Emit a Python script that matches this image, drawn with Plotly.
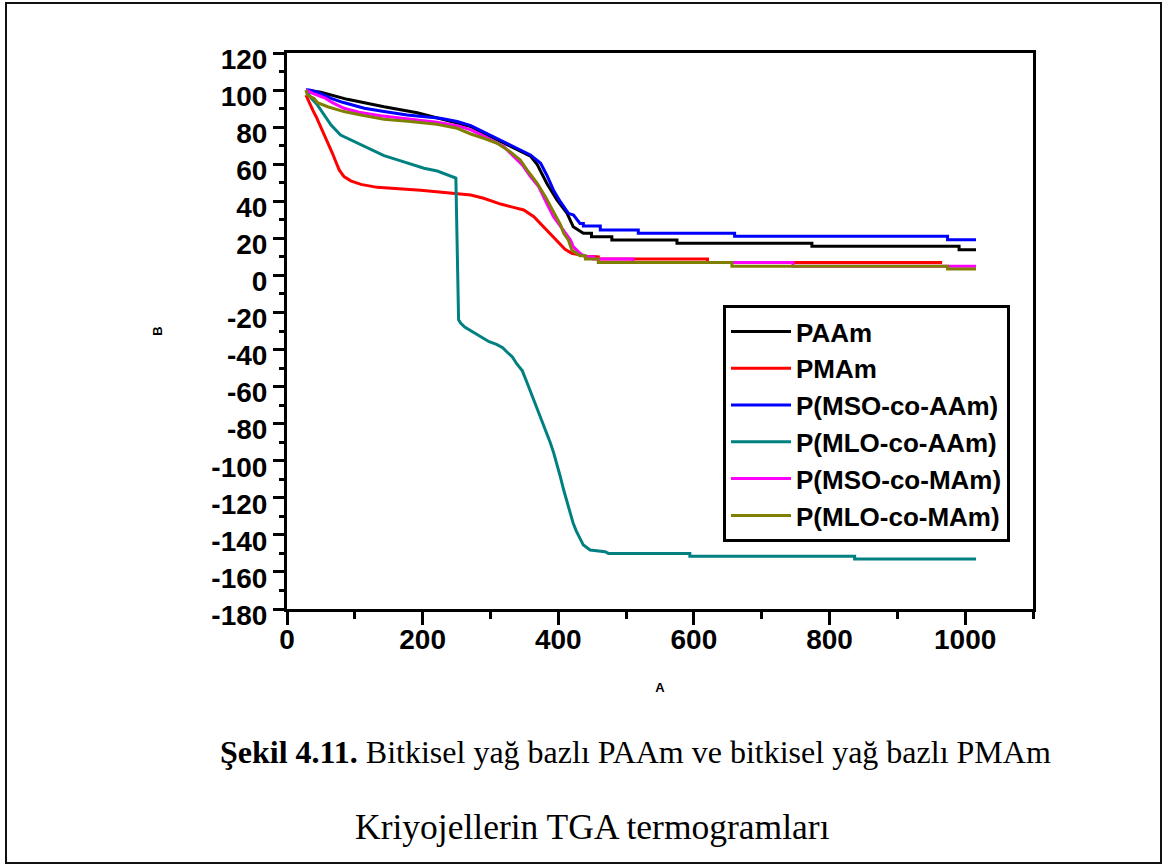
import plotly.graph_objects as go

# ---------------- data ----------------
paam_T = [28, 50, 89, 143, 192, 244, 271, 290, 315, 339, 359, 369, 383, 398, 413, 422,
          437, 449, 449, 479, 479, 575, 575, 774, 774, 991, 991, 1016]
paam_W = [100, 98.8, 95, 91, 87.8, 83, 80.3, 76.8, 72.4, 68.2, 64.4, 59.8, 49.7, 40.7, 33.5, 26.3,
          22.7, 22.7, 20.9, 20.9, 19.1, 19.1, 17.3, 17.3, 15.7, 15.7, 13.9, 13.9]

pmam_T = [28, 33, 38, 43, 47.5, 52.5, 60, 67, 72, 77, 84, 94, 109, 133, 197, 244, 271, 290,
          315, 334, 349, 364, 376, 388, 400, 410, 420, 440, 452, 459, 459, 620, 620, 966]
pmam_W = [97.3, 92.8, 89.2, 85.6, 82, 77.5, 72.1, 65.9, 61.3, 56.9, 53.3, 51, 49.1, 47.5, 46,
          44.3, 43.4, 41.6, 38.5, 36.7, 35.3, 31.7, 27.2, 22.7, 18.2, 14.1, 11.9, 10.4, 10.2,
          10, 8.8, 8.8, 6.9, 6.9]

msoaam_T = [28, 33, 45, 65, 82, 114, 143, 177, 226, 251, 271, 290, 315, 339, 359, 374, 383,
            393, 403, 415, 422.5, 432, 437, 437, 462, 462, 518, 518, 660, 660, 974, 974, 1016]
msoaam_W = [100, 100, 98.8, 95.5, 93.4, 90.2, 88.4, 86.5, 84.8, 83, 80.8, 77.5, 73, 68.6, 65,
            60.5, 54.2, 46, 39.8, 33.5, 32.6, 28, 28, 26.6, 26.6, 24.5, 24.5, 22.7, 22.7, 21.1,
            21.1, 19.3, 19.3]

mloaam_T = [28, 35, 45, 55, 65, 79, 99, 123.5, 143, 163, 182, 202, 221.6, 236, 246, 249, 253,
            256, 262, 271, 279, 290, 298, 309, 318, 324, 332, 339, 347, 353, 360, 366, 372, 378,
            383, 388, 393, 398, 403, 408, 413, 418, 422, 427, 432, 437, 447, 469, 474, 594, 594,
            837, 837, 1016]
mloaam_W = [100, 96, 91.9, 86.5, 81.1, 75.7, 72.1, 67.7, 64.6, 62.3, 59.9, 57.8, 56.3, 54.5,
            52.9, 52.5, -24, -25.7, -27.9, -29.9, -31.8, -34, -35.8, -37.2, -39, -41.2, -43.9,
            -47.8, -51.5, -57, -63.5, -69.5, -75.5, -80.5, -85, -90, -95.5, -101.4, -108.6,
            -115.8, -122.1, -128.4, -133.8, -138.3, -141.9, -145.5, -148.2, -149.1, -150, -150,
            -151.5, -151.5, -153, -153]

msomam_T = [28, 38, 57, 67, 84, 106, 138, 182, 221, 251, 271, 290, 320, 332, 347, 359, 371,
            383, 393, 418, 422, 432, 440, 452, 452, 510, 510, 746, 746, 1016]
msomam_W = [100, 98.2, 95.5, 93.2, 90.2, 88, 86.2, 84.2, 82.6, 80.8, 78.5, 75.2, 69.4, 65,
            59.6, 53.3, 47.9, 38.9, 31.7, 19.1, 15.5, 11.9, 10, 10, 8.8, 8.8, 6.9, 6.9, 5, 5]

mlomam_T = [28, 30, 40, 45, 60, 84, 109, 143, 182, 221, 251, 271, 290, 310, 329, 344, 354,
            369, 381, 393, 403, 408, 415, 420, 432, 440, 440, 459, 459, 656, 656, 974, 974, 1016]
mlomam_W = [100, 97.3, 95.5, 93.2, 91, 88.4, 86.5, 84.2, 83, 81.5, 79.4, 76.3, 74, 71.3, 66.7,
            62.3, 56.9, 49.7, 42.5, 34.5, 27.6, 22.7, 19, 13.7, 10.6, 10.6, 8.8, 8.8, 6.9, 6.9,
            5, 5, 3.4, 3.4]

series_names = ["PAAm", "PMAm", "P(MSO-co-AAm)", "P(MLO-co-AAm)", "P(MSO-co-MAm)", "P(MLO-co-MAm)"]
series_colors = ["#000000", "#FF0000", "#0000FF", "#008080", "#FF00FF", "#808000"]
series_T = [paam_T, pmam_T, msoaam_T, mloaam_T, msomam_T, mlomam_T]
series_W = [paam_W, pmam_W, msoaam_W, mloaam_W, msomam_W, mlomam_W]

x_ticks = [0, 200, 400, 600, 800, 1000]
y_ticks = list(range(-180, 121, 20))
caption_1 = "<b>Şekil 4.11.</b> Bitkisel yağ bazlı PAAm ve bitkisel yağ bazlı PMAm"
caption_2 = "Kriyojellerin TGA termogramları"

# ---------------- figure ----------------
W_PX, H_PX = 1164, 866
ML, MR, MT, MB = 287, 131, 53, 257
PW, PH = W_PX - ML - MR, H_PX - MT - MB


def px_to_paper_x(px):
    return (px - ML) / PW


def px_to_paper_y(py):
    return (H_PX - MB - py) / PH


fig = go.Figure()
for name, color, T, Wv in zip(series_names, series_colors, series_T, series_W):
    fig.add_trace(go.Scatter(x=T, y=Wv, mode="lines", name=name,
                             line=dict(color=color, width=3)))

tick_font = dict(family="Liberation Sans, Arial, sans-serif", size=28, color="black", weight="bold")

fig.update_layout(
    width=W_PX, height=H_PX,
    margin=dict(l=ML, r=MR, t=MT, b=MB, pad=0),
    paper_bgcolor="white", plot_bgcolor="white",
    showlegend=True,
    legend=dict(
        x=px_to_paper_x(723), y=px_to_paper_y(305), xanchor="left", yanchor="top",
        bgcolor="white", bordercolor="black", borderwidth=3,
        font=dict(family="Liberation Sans, Arial, sans-serif", size=26, color="black", weight="bold"),
        itemwidth=60, tracegroupgap=0,
    ),
    xaxis=dict(
        range=[0, 1100], tickmode="array", tickvals=x_ticks, ticktext=[str(v) for v in x_ticks],
        showgrid=False, zeroline=False, showline=True, linecolor="black", linewidth=3,
        mirror=True, ticks="outside", ticklen=13, tickwidth=3, tickcolor="black",
        minor=dict(dtick=100, ticks="outside", ticklen=7, tickwidth=3, tickcolor="black", showgrid=False),
        tickfont=tick_font, ticklabelstandoff=-10,
        title=dict(text="A", font=dict(family="Liberation Sans, Arial, sans-serif", size=13,
                                       color="black", weight="bold"), standoff=30),
    ),
    yaxis=dict(
        range=[-180, 120], tickmode="array", tickvals=y_ticks, ticktext=[str(v) for v in y_ticks],
        showgrid=False, zeroline=False, showline=True, linecolor="black", linewidth=3,
        mirror=True, ticks="outside", ticklen=11, tickwidth=3, tickcolor="black",
        minor=dict(dtick=10, ticks="outside", ticklen=5, tickwidth=3, tickcolor="black", showgrid=False),
        tickfont=tick_font, ticklabelshift=6,
        title=dict(text="B", font=dict(family="Liberation Sans, Arial, sans-serif", size=13,
                                       color="black", weight="bold"), standoff=46),
    ),
)

serif = "Liberation Serif, Times New Roman, serif"
fig.add_annotation(text=caption_1, xref="paper", yref="paper",
                   x=px_to_paper_x(635), y=px_to_paper_y(752), xanchor="center", yanchor="middle",
                   showarrow=False, font=dict(family=serif, size=32, color="black"))
fig.add_annotation(text=caption_2, xref="paper", yref="paper",
                   x=px_to_paper_x(592), y=px_to_paper_y(827), xanchor="center", yanchor="middle",
                   showarrow=False, font=dict(family=serif, size=35.5, color="black"))

# outer frame of the figure
fig.add_shape(type="rect", xref="paper", yref="paper",
              x0=px_to_paper_x(6), x1=px_to_paper_x(1161),
              y0=px_to_paper_y(863), y1=px_to_paper_y(3),
              line=dict(color="#111111", width=2), fillcolor="rgba(0,0,0,0)", layer="below")

fig.write_html("out.html")
